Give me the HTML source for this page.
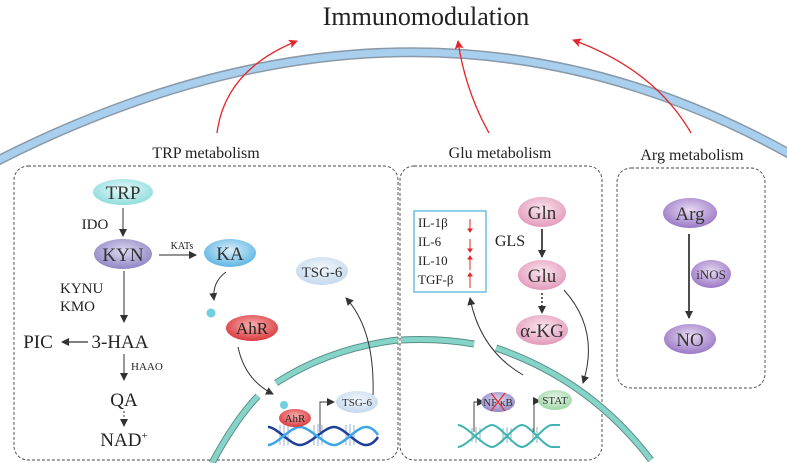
<!DOCTYPE html>
<html><head><meta charset="utf-8"><style>
html,body{margin:0;padding:0;background:#fff}
svg{display:block;font-family:"Liberation Serif",serif}
</style></head><body>
<svg width="787" height="463" viewBox="0 0 787 463" xmlns="http://www.w3.org/2000/svg">
<defs>
<radialGradient id="gC" cx="50%" cy="40%" r="60%"><stop offset="0" stop-color="#e6fbfa"/><stop offset="1" stop-color="#8fdcdc"/></radialGradient>
<radialGradient id="gP" cx="50%" cy="40%" r="60%"><stop offset="0" stop-color="#ddd8f0"/><stop offset="1" stop-color="#8f86c4"/></radialGradient>
<radialGradient id="gB" cx="50%" cy="40%" r="60%"><stop offset="0" stop-color="#d8eefa"/><stop offset="1" stop-color="#5fb5e3"/></radialGradient>
<radialGradient id="gR" cx="50%" cy="40%" r="60%"><stop offset="0" stop-color="#f8b0b0"/><stop offset="1" stop-color="#d93a3e"/></radialGradient>
<radialGradient id="gL" cx="50%" cy="40%" r="60%"><stop offset="0" stop-color="#f2f7fc"/><stop offset="1" stop-color="#c4d9ee"/></radialGradient>
<radialGradient id="gK" cx="50%" cy="40%" r="60%"><stop offset="0" stop-color="#fbe6ef"/><stop offset="1" stop-color="#e39abb"/></radialGradient>
<radialGradient id="gV" cx="50%" cy="40%" r="60%"><stop offset="0" stop-color="#e8daf2"/><stop offset="1" stop-color="#9a78c6"/></radialGradient>
<radialGradient id="gG" cx="50%" cy="40%" r="60%"><stop offset="0" stop-color="#e8f7ea"/><stop offset="1" stop-color="#9ed6a6"/></radialGradient>
<marker id="ak" markerWidth="8" markerHeight="8" refX="7" refY="4" orient="auto" markerUnits="userSpaceOnUse"><path d="M0,0 L8,4 L0,8 z" fill="#333"/></marker>
<marker id="ar" markerWidth="9" markerHeight="9" refX="8" refY="4.5" orient="auto" markerUnits="userSpaceOnUse"><path d="M0,0 L9,4.5 L0,9 L2,4.5 z" fill="#e3262b"/></marker>
</defs>

<path d="M-5,162 Q420,-55 795,157" fill="none" stroke="#8a9aa8" stroke-width="10"/>
<path d="M-5,162 Q420,-55 795,157" fill="none" stroke="#a9cfee" stroke-width="7"/>

<text x="426" y="25" font-size="26" text-anchor="middle" fill="#222">Immunomodulation</text>

<path d="M217,133 Q225,70 297,41" fill="none" stroke="#e3262b" stroke-width="1.3" marker-end="url(#ar)"/>
<path d="M489,133 Q465,90 458,41" fill="none" stroke="#e3262b" stroke-width="1.3" marker-end="url(#ar)"/>
<path d="M691,133 Q655,70 573,40" fill="none" stroke="#e3262b" stroke-width="1.3" marker-end="url(#ar)"/>

<text x="206" y="158" font-size="16" text-anchor="middle" fill="#222">TRP metabolism</text>
<text x="500" y="158" font-size="16" text-anchor="middle" fill="#222">Glu metabolism</text>
<text x="692" y="160" font-size="16" text-anchor="middle" fill="#222">Arg metabolism</text>

<rect x="14" y="166" width="384" height="294" rx="14" fill="none" stroke="#444" stroke-width="0.9" stroke-dasharray="3,2"/>
<rect x="400" y="166" width="202" height="294" rx="14" fill="none" stroke="#444" stroke-width="0.9" stroke-dasharray="3,2"/>
<rect x="617" y="168" width="148" height="220" rx="14" fill="none" stroke="#444" stroke-width="0.9" stroke-dasharray="3,2"/>

<g fill="none" stroke="#5a8f88" stroke-width="7">
<path d="M212,463 Q235,420 258,396"/><path d="M276,383 Q330,348 398,340"/>
<path d="M401,340 Q440,338 474,344"/><path d="M496,348 Q590,380 651,460"/>
</g>
<g fill="none" stroke="#86d4c7" stroke-width="5">
<path d="M212,463 Q235,420 258,396"/><path d="M276,383 Q330,348 398,340"/>
<path d="M401,340 Q440,338 474,344"/><path d="M496,348 Q590,380 651,460"/>
</g>

<ellipse cx="123" cy="192" rx="30" ry="13" fill="url(#gC)"/>
<text x="123" y="199" font-size="19" text-anchor="middle" fill="#333">TRP</text>
<line x1="123" y1="208" x2="123" y2="236" stroke="#555" stroke-width="1.2" marker-end="url(#ak)"/>
<text x="95" y="229" font-size="15" text-anchor="middle" fill="#222">IDO</text>
<ellipse cx="123" cy="254" rx="29" ry="15" fill="url(#gP)"/>
<text x="123" y="261" font-size="19" text-anchor="middle" fill="#333">KYN</text>
<line x1="159" y1="255" x2="196" y2="255" stroke="#555" stroke-width="1.2" marker-end="url(#ak)"/>
<text x="182" y="249" font-size="10" text-anchor="middle" fill="#222">KATs</text>
<ellipse cx="230" cy="253" rx="26" ry="14" fill="url(#gB)"/>
<text x="230" y="260" font-size="19" text-anchor="middle" fill="#333">KA</text>
<line x1="124" y1="271" x2="124" y2="322" stroke="#555" stroke-width="1.2" marker-end="url(#ak)"/>
<text x="60" y="293" font-size="15" fill="#222">KYNU</text>
<text x="60" y="311" font-size="15" fill="#222">KMO</text>
<text x="120" y="348" font-size="19" text-anchor="middle" fill="#222">3-HAA</text>
<line x1="88" y1="342" x2="62" y2="342" stroke="#333" stroke-width="1.2" marker-end="url(#ak)"/>
<text x="38" y="348" font-size="19" text-anchor="middle" fill="#222">PIC</text>
<line x1="124" y1="354" x2="124" y2="380" stroke="#555" stroke-width="1.2" marker-end="url(#ak)"/>
<text x="131" y="370" font-size="11" fill="#222">HAAO</text>
<text x="124" y="406" font-size="19" text-anchor="middle" fill="#222">QA</text>
<line x1="124" y1="411" x2="124" y2="426" stroke="#555" stroke-width="1.2" stroke-dasharray="2,2" marker-end="url(#ak)"/>
<text x="124" y="446" font-size="19" text-anchor="middle" fill="#222">NAD<tspan font-size="11" dy="-7">+</tspan></text>

<path d="M226,272 Q212,282 214,300" fill="none" stroke="#333" stroke-width="1" marker-end="url(#ak)"/>
<circle cx="211" cy="313" r="4.5" fill="#6fd0e0"/>
<ellipse cx="252" cy="328" rx="26" ry="13" fill="url(#gR)"/>
<text x="252" y="334" font-size="17" text-anchor="middle" fill="#222">AhR</text>
<path d="M238,347 Q245,380 273,394" fill="none" stroke="#333" stroke-width="1" marker-end="url(#ak)"/>

<ellipse cx="322" cy="271" rx="26" ry="14" fill="url(#gL)"/>
<text x="322" y="277" font-size="15" text-anchor="middle" fill="#333">TSG-6</text>
<path d="M373,395 Q375,330 346,298" fill="none" stroke="#333" stroke-width="1" marker-end="url(#ak)"/>

<g>
<g stroke="#6a8fd0" stroke-width="0.7">
<line x1="280" y1="425" x2="280" y2="445"/><line x1="284" y1="424" x2="284" y2="446"/><line x1="288" y1="425" x2="288" y2="445"/>
<line x1="314" y1="425" x2="314" y2="445"/><line x1="318" y1="424" x2="318" y2="446"/><line x1="322" y1="425" x2="322" y2="445"/>
<line x1="346" y1="425" x2="346" y2="445"/><line x1="350" y1="424" x2="350" y2="446"/><line x1="354" y1="425" x2="354" y2="445"/>
</g>
<path d="M268,427 C277,427 290,445 300,445 C310,445 324,427 334,427 C344,427 356,445 366,445 C372,445 376,440 378,437" fill="none" stroke="#1d3f9a" stroke-width="2.5"/>
<path d="M268,445 C277,445 290,427 300,427 C310,427 324,445 334,445 C344,445 356,427 366,427 C372,427 376,432 378,435" fill="none" stroke="#3aa6e8" stroke-width="2.5"/>
</g>
<circle cx="284" cy="405" r="4" fill="#6fd0e0"/>
<ellipse cx="295" cy="418" rx="16" ry="9" fill="url(#gR)"/>
<text x="295" y="422" font-size="11" text-anchor="middle" fill="#222">AhR</text>
<path d="M320,432 L320,402 L334,402" fill="none" stroke="#333" stroke-width="0.9" marker-end="url(#ak)"/>
<ellipse cx="357" cy="402" rx="21" ry="11" fill="url(#gL)"/>
<text x="357" y="406" font-size="11" text-anchor="middle" fill="#333">TSG-6</text>

<rect x="414" y="211" width="72" height="81" fill="#fff" stroke="#5ab3e0" stroke-width="1.3"/>
<text x="418" y="227" font-size="13" fill="#222">IL-1β</text>
<text x="418" y="246" font-size="13" fill="#222">IL-6</text>
<text x="418" y="265" font-size="13" fill="#222">IL-10</text>
<text x="418" y="284" font-size="13" fill="#222">TGF-β</text>
<g stroke="#e3262b" stroke-width="1" fill="#e3262b">
<line x1="470" y1="219" x2="470" y2="230"/><path d="M468,229 L472,229 L470,232 z"/>
<line x1="470" y1="239" x2="470" y2="250"/><path d="M468,249 L472,249 L470,252 z"/>
<line x1="470" y1="258" x2="470" y2="270"/><path d="M468,259 L472,259 L470,256 z"/>
<line x1="470" y1="275" x2="470" y2="288"/><path d="M468,276 L472,276 L470,273 z"/>
</g>
<ellipse cx="542" cy="212" rx="24" ry="15" fill="url(#gK)"/>
<text x="542" y="219" font-size="19" text-anchor="middle" fill="#333">Gln</text>
<line x1="542" y1="229" x2="542" y2="257" stroke="#222" stroke-width="1.6" marker-end="url(#ak)"/>
<text x="510" y="246" font-size="16" text-anchor="middle" fill="#222">GLS</text>
<ellipse cx="542" cy="275" rx="24" ry="15" fill="url(#gK)"/>
<text x="542" y="282" font-size="19" text-anchor="middle" fill="#333">Glu</text>
<line x1="542" y1="293" x2="542" y2="313" stroke="#222" stroke-width="1.4" stroke-dasharray="2,2" marker-end="url(#ak)"/>
<ellipse cx="542" cy="330" rx="26" ry="15" fill="url(#gK)"/>
<text x="542" y="337" font-size="19" text-anchor="middle" fill="#333">α-KG</text>
<path d="M564,290 Q600,330 583,383" fill="none" stroke="#333" stroke-width="1" marker-end="url(#ak)"/>
<path d="M523,375 Q480,350 470,298" fill="none" stroke="#333" stroke-width="1" marker-end="url(#ak)"/>

<g>
<g stroke="#4a9d98" stroke-width="0.7">
<line x1="472" y1="428" x2="472" y2="442"/><line x1="476" y1="427" x2="476" y2="443"/><line x1="480" y1="428" x2="480" y2="442"/>
<line x1="503" y1="428" x2="503" y2="442"/><line x1="507" y1="427" x2="507" y2="443"/><line x1="511" y1="428" x2="511" y2="442"/>
<line x1="533" y1="428" x2="533" y2="442"/><line x1="537" y1="427" x2="537" y2="443"/>
</g>
<path d="M458,425 C466,425 484,447 492,447 C500,447 514,425 522,425 C530,425 544,447 552,447 L560,447" fill="none" stroke="#3fb3b0" stroke-width="2"/>
<path d="M458,447 C466,447 484,425 492,425 C500,425 514,447 522,447 C530,447 544,425 552,425 L560,425" fill="none" stroke="#3fb3b0" stroke-width="2"/>
</g>
<path d="M474,432 L474,402 L484,402" fill="none" stroke="#333" stroke-width="0.9" marker-end="url(#ak)"/>
<ellipse cx="498" cy="402" rx="17" ry="10" fill="url(#gP)"/>
<text x="498" y="406" font-size="11" text-anchor="middle" fill="#333">NF κB</text>
<path d="M491,393 L505,411 M505,393 L491,411" stroke="#e3262b" stroke-width="1.2"/>
<path d="M534,432 L534,401 L540,401" fill="none" stroke="#333" stroke-width="0.9" marker-end="url(#ak)"/>
<ellipse cx="555" cy="400" rx="17" ry="10" fill="url(#gG)"/>
<text x="555" y="404" font-size="11" text-anchor="middle" fill="#333">STAT</text>

<ellipse cx="690" cy="213" rx="27" ry="15" fill="url(#gV)"/>
<text x="690" y="220" font-size="19" text-anchor="middle" fill="#333">Arg</text>
<line x1="689" y1="234" x2="689" y2="318" stroke="#222" stroke-width="1.6" marker-end="url(#ak)"/>
<ellipse cx="711" cy="274" rx="20" ry="14" fill="url(#gV)"/>
<text x="711" y="279" font-size="13" text-anchor="middle" fill="#333">iNOS</text>
<ellipse cx="690" cy="339" rx="26" ry="15" fill="url(#gV)"/>
<text x="690" y="346" font-size="19" text-anchor="middle" fill="#333">NO</text>
</svg>
</body></html>
